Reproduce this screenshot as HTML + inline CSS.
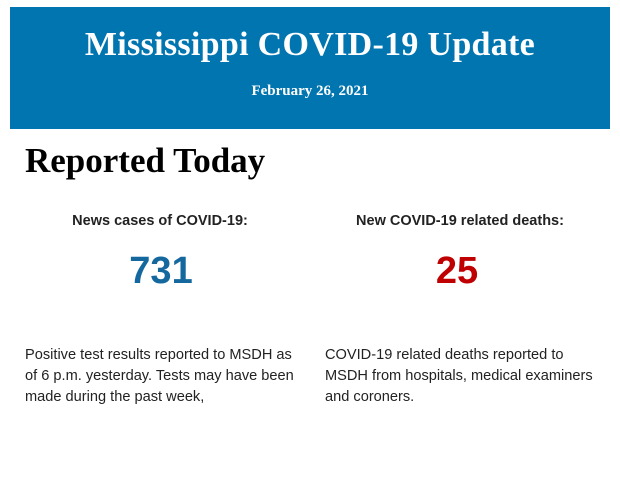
<!DOCTYPE html>
<html><head><style>
body{margin:0;width:620px;height:483px;background:#fff;position:relative;overflow:hidden}
.ban{position:absolute;left:10px;top:7px;width:600px;height:122px;background:#0075b0;color:#fff;font-family:"Liberation Serif",serif;font-weight:bold;text-align:center}
.t{position:absolute;left:0;right:0;top:18px;font-size:34px;line-height:40px;letter-spacing:0.3px}
.d{position:absolute;left:0;right:0;top:75px;font-size:15px;line-height:18px}
h1{position:absolute;left:25px;top:141px;margin:0;font:bold 35px/40px "Liberation Serif",serif;color:#000}
.lab{position:absolute;width:300px;text-align:center;font:bold 14.5px/16px "Liberation Sans",sans-serif;color:#222;top:213px}
.num{position:absolute;width:300px;text-align:center;font:bold 38px/40px "Liberation Sans",sans-serif;top:251px}
.p{position:absolute;top:345px;font:14.6px/21px "Liberation Sans",sans-serif;color:#222;white-space:nowrap}
</style></head><body>
<div class="ban"><div class="t">Mississippi COVID-19 Update</div><div class="d">February 26, 2021</div></div>
<h1>Reported Today</h1>
<div class="lab" style="left:10px">News cases of COVID-19:</div>
<div class="lab" style="left:310px">New COVID-19 related deaths:</div>
<div class="num" style="left:11px;color:#14689e">731</div>
<div class="num" style="left:307px;color:#c00000">25</div>
<div class="p" style="left:25px">Positive test results reported to MSDH as<br>of 6 p.m. yesterday. Tests may have been<br>made during the past week,</div>
<div class="p" style="left:325px">COVID-19 related deaths reported to<br>MSDH from hospitals, medical examiners<br>and coroners.</div>
</body></html>
